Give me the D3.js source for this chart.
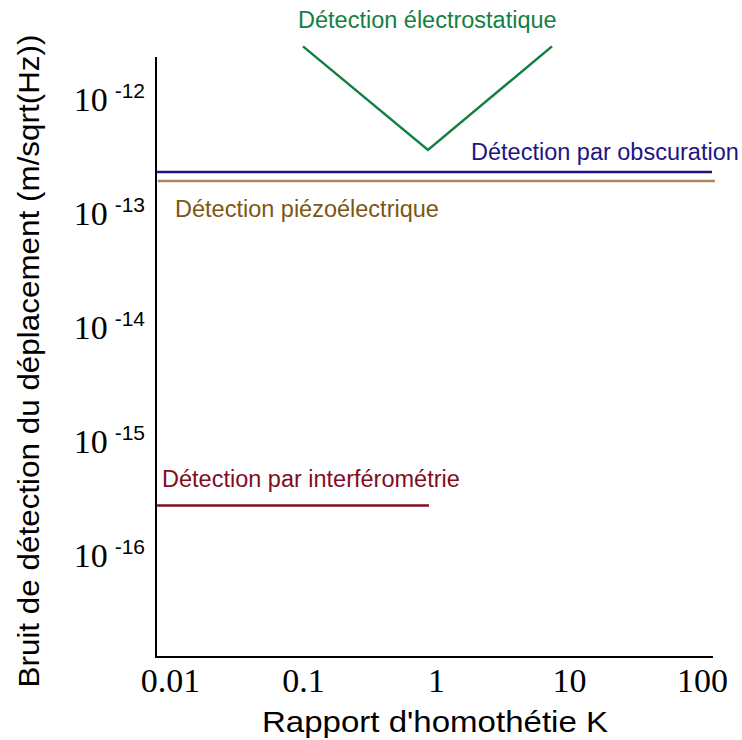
<!DOCTYPE html>
<html>
<head>
<meta charset="utf-8">
<script src="https://cdn.jsdelivr.net/npm/d3@7"></script>
<style>
  body { margin: 0; background: #fff; }
  svg { display: block; }
</style>
</head>
<body>
<svg id="canvas" width="742" height="740"></svg>
<script>
'use strict';

/* tick values of both axes */
const xTicks = [0.01, 0.1, 1, 10, 100];
const yTicks = [1e-12, 1e-13, 1e-14, 1e-15, 1e-16];
const yExponents = ['-12', '-13', '-14', '-15', '-16'];

/* series: K (x) and displacement noise (y) */
const electroK = [0.1, 0.87, 7.45];
const electroNoise = [3.4e-12, 4.2e-13, 3.4e-12];
const obscurK = [0.008, 119];
const obscurNoise = [2.69e-13, 2.69e-13];
const piezoK = [0.0081, 125];
const piezoNoise = [2.24e-13, 2.24e-13];
const interfK = [0.008, 0.885];
const interfNoise = [3.2e-16, 3.2e-16];

const series = [
  { name: 'Détection électrostatique', k: electroK, v: electroNoise,
    stroke: '#128042', fill: '#128042', lx: 298, ly: 28 },
  { name: 'Détection par obscuration', k: obscurK, v: obscurNoise,
    stroke: '#1d1485', fill: '#1d1485', lx: 471, ly: 160 },
  { name: 'Détection piézoélectrique', k: piezoK, v: piezoNoise,
    stroke: '#a8885a', fill: '#7d5613', lx: 175, ly: 217 },
  { name: 'Détection par interférométrie', k: interfK, v: interfNoise,
    stroke: '#7f0e1e', fill: '#7f0e1e', lx: 162, ly: 487 }
];

const sans = '"Liberation Sans", Arial, sans-serif';
const serif = '"Liberation Serif", "Times New Roman", serif';

const svg = d3.select('svg#canvas');

/* scales */
const x = d3.scaleLog().domain([0.01, 100]).range([170, 702]);
const y = d3.scaleLog().domain([1e-12, 1e-16]).range([107, 563]);

const axisLeft = 156, axisRight = 713, axisTop = 57, axisBottom = 657;

/* series lines */
const line = d3.line()
  .x(function(d){ return x(d[0]); })
  .y(function(d){ return y(d[1]); });

svg.append('g').attr('id', 'lines')
  .selectAll('path')
  .data(series)
  .enter().append('path')
    .attr('d', function(d){ return line(d3.zip(d.k, d.v)); })
    .style('fill', 'none')
    .style('stroke', function(d){ return d.stroke; })
    .style('stroke-width', 2.5);

/* series labels */
svg.append('g').attr('id', 'labels')
  .selectAll('text')
  .data(series)
  .enter().append('text')
    .attr('x', function(d){ return d.lx; })
    .attr('y', function(d){ return d.ly; })
    .style('font-family', sans)
    .style('font-size', '23.5px')
    .style('fill', function(d){ return d.fill; })
    .text(function(d){ return d.name; });

/* axes lines */
svg.append('path')
  .attr('d', `M${axisLeft},${axisTop}V${axisBottom}H${axisRight}`)
  .style('fill', 'none')
  .style('stroke', '#000')
  .style('stroke-width', 2);

/* x axis ticks */
const gx = svg.append('g')
  .attr('transform', `translate(0,${axisBottom})`)
  .call(d3.axisBottom(x).tickValues(xTicks).tickSize(0).tickPadding(11)
    .tickFormat(function(d){ return String(d); }));
gx.select('.domain').remove();
gx.selectAll('text')
  .style('font-family', serif)
  .style('font-size', '34px')
  .style('fill', '#000');

/* y axis ticks, 10 with superscript exponent */
const gy = svg.append('g')
  .attr('transform', `translate(${axisLeft},0)`)
  .call(d3.axisLeft(y).tickValues(yTicks).tickSize(0).tickPadding(11)
    .tickFormat(''));
gy.select('.domain').remove();
gy.selectAll('text').each(function(d, i){
  const t = d3.select(this);
  t.append('tspan')
    .style('font-family', serif)
    .style('font-size', '34px')
    .text('10');
  t.append('tspan')
    .attr('dx', 7)
    .attr('dy', -13)
    .style('font-family', sans)
    .style('font-size', '21px')
    .text(yExponents[i]);
});
gy.selectAll('text').style('fill', '#000');

/* axis titles */
svg.append('text')
  .attr('x', 435)
  .attr('y', 732)
  .attr('text-anchor', 'middle')
  .attr('textLength', 346)
  .attr('lengthAdjust', 'spacingAndGlyphs')
  .style('font-family', sans)
  .style('font-size', '30px')
  .text("Rapport d'homothétie K");

svg.append('text')
  .attr('transform', 'translate(39,361) rotate(-90)')
  .attr('text-anchor', 'middle')
  .attr('textLength', 653)
  .attr('lengthAdjust', 'spacingAndGlyphs')
  .style('font-family', sans)
  .style('font-size', '29px')
  .text('Bruit de détection du déplacement (m/sqrt(Hz))');
</script>
</body>
</html>
